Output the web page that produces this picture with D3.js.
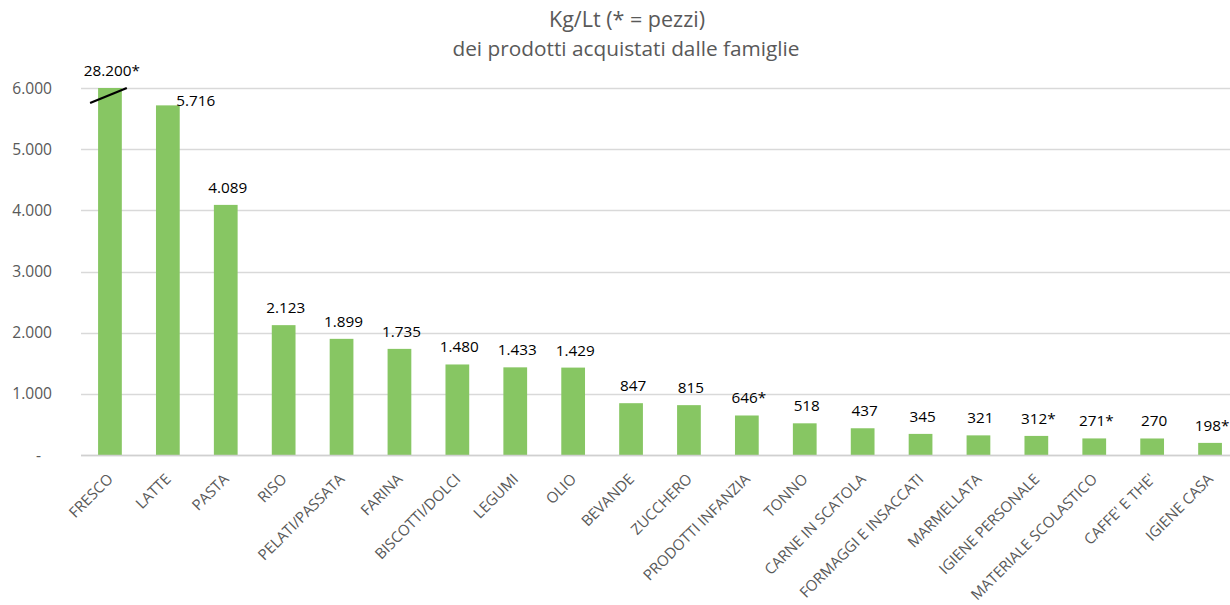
<!DOCTYPE html>
<html>
<head>
<meta charset="utf-8">
<script src="https://cdn.jsdelivr.net/npm/d3@7"></script>
<style>
  body { margin: 0; background: #fff; }
  svg { display: block; font-family: "Open Sans", sans-serif; }
</style>
</head>
<body>
<svg id="chart"></svg>
<script>
// data
var categories = ["FRESCO", "LATTE", "PASTA", "RISO", "PELATI/PASSATA", "FARINA", "BISCOTTI/DOLCI",
  "LEGUMI", "OLIO", "BEVANDE", "ZUCCHERO", "PRODOTTI INFANZIA", "TONNO", "CARNE IN SCATOLA",
  "FORMAGGI E INSACCATI", "MARMELLATA", "IGIENE PERSONALE", "MATERIALE SCOLASTICO", "CAFFE' E THE'", "IGIENE CASA"]
var values = [28200, 5716, 4089, 2123, 1899, 1735, 1480, 1433, 1429, 847, 815, 646, 518, 437, 345, 321, 312, 271, 270, 198]
var pieces = [true, false, false, false, false, false, false, false, false, false, false, true,
  false, false, false, false, true, true, false, true]
var yTicks = [0, 1000, 2000, 3000, 4000, 5000, 6000]
var yMax = 6000

var width = 1230
var height = 605
var margin = ({top: 88, right: -9, bottom: 150, left: 81})

var it = d3.formatLocale({decimal: ",", thousands: ".", grouping: [3], currency: ["", "€"]})
var fmt = it.format(",d")

var data = categories.map((c, i) => ({cat: c, value: values[i], star: pieces[i]}))

var x = d3.scaleBand()
  .domain(categories)
  .range([margin.left, width - margin.right])
  .paddingInner(0.59)
  .paddingOuter(0.295)

var y = d3.scaleLinear()
  .domain([0, yMax])
  .range([height - margin.bottom, margin.top])

var svg = d3.select("#chart")
  .attr("width", width)
  .attr("height", height)

// title
svg.append("text")
  .attr("x", 627).attr("y", 27)
  .attr("text-anchor", "middle")
  .attr("fill", "#595959")
  .attr("font-size", 21.5)
  .text("Kg/Lt (* = pezzi)")
svg.append("text")
  .attr("x", 626).attr("y", 56)
  .attr("text-anchor", "middle")
  .attr("fill", "#595959")
  .attr("font-size", 20.8)
  .text("dei prodotti acquistati dalle famiglie")

// gridlines
svg.append("g")
  .selectAll("line")
  .data(yTicks)
  .join("line")
  .attr("x1", margin.left)
  .attr("x2", 1230)
  .attr("y1", d => Math.round(y(d)) + 0.5)
  .attr("y2", d => Math.round(y(d)) + 0.5)
  .attr("stroke", "#d9d9d9")
  .attr("stroke-width", 1.3)

// y axis labels
var yAxis = g => g
  .attr("transform", `translate(${margin.left},0)`)
  .call(d3.axisLeft(y).tickValues(yTicks).tickSize(0).tickPadding(29)
    .tickFormat(d => d === 0 ? "-" : fmt(d)))
  .call(g => g.select(".domain").remove())
  .call(g => g.selectAll("text")
    .attr("fill", "#595959")
    .attr("font-size", 15.6)
    .attr("font-family", "'Open Sans', sans-serif"))
  .call(g => g.selectAll(".tick").filter(d => d === 0).select("text").attr("dx", -11))
svg.append("g").call(yAxis)

// bars
svg.append("g")
  .attr("fill", "#87c663")
  .selectAll("rect")
  .data(data)
  .join("rect")
  .attr("x", d => x(d.cat))
  .attr("width", x.bandwidth())
  .attr("y", d => y(Math.min(d.value, yMax)))
  .attr("height", d => y(0) - y(Math.min(d.value, yMax)))

// break mark on the truncated bar
var first = data[0]
svg.append("line")
  .attr("x1", x(first.cat) - 8)
  .attr("x2", x(first.cat) + x.bandwidth() + 5)
  .attr("y1", y(yMax) + 15)
  .attr("y2", y(yMax))
  .attr("stroke", "#000")
  .attr("stroke-width", 2.2)

// value labels
svg.append("g")
  .selectAll("text")
  .data(data)
  .join("text")
  .attr("x", d => d.cat === "LATTE" ? x(d.cat) + x.bandwidth() + 16 : x(d.cat) + x.bandwidth() / 2 + 2)
  .attr("y", d => d.cat === "LATTE" ? y(d.value) + 1 : y(Math.min(d.value, yMax)) - 12)
  .attr("text-anchor", "middle")
  .attr("fill", "#000")
  .attr("font-size", 15.3)
  .text(d => fmt(d.value) + (d.star ? "*" : ""))

// x axis labels
var xAxis = g => g
  .attr("transform", `translate(0,${height - margin.bottom})`)
  .call(d3.axisBottom(x).tickSize(0).tickPadding(0))
  .call(g => g.select(".domain").remove())
  .call(g => g.selectAll("text")
    .attr("fill", "#595959")
    .attr("font-size", 15)
    .attr("font-family", "'Open Sans', sans-serif")
    .attr("text-anchor", "end")
    .attr("dy", 0)
    .attr("transform", "translate(4,25) rotate(-45)"))
svg.append("g").call(xAxis)

// baseline
svg.append("line")
  .attr("x1", margin.left).attr("x2", 1230)
  .attr("y1", Math.round(y(0)) + 0.5).attr("y2", Math.round(y(0)) + 0.5)
  .attr("stroke", "#d0d0d0")
  .attr("stroke-width", 1.5)
</script>
</body>
</html>
